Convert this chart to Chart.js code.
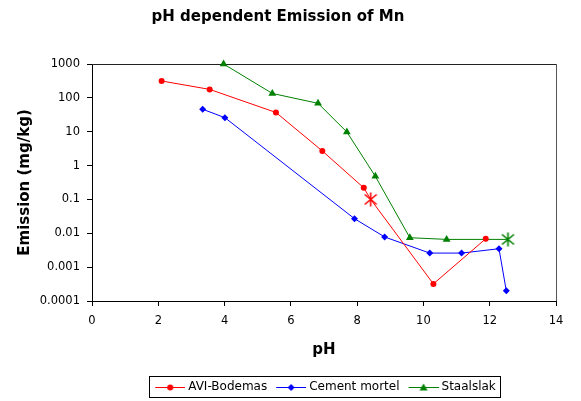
<!DOCTYPE html>
<html>
<head>
<meta charset="utf-8">
<script src="https://cdn.jsdelivr.net/npm/chart.js@4/dist/chart.umd.min.js"></script>
<style>
  html, body { margin: 0; padding: 0; background: #fff; }
  #wrap { width: 581px; height: 401px; }
</style>
</head>
<body>
<div id="wrap"><canvas id="chart" width="581" height="401"></canvas></div>
<script>
// data
const seriesNames = ['AVI-Bodemas', 'Cement mortel', 'Staalslak'];

const aviPH = [2.1, 3.55, 5.55, 6.95, 8.2, 8.41, 10.3, 11.88];
const aviEmission = [315, 178, 37, 2.7, 0.22, 0.1, 0.00032, 0.0069];

const cementPH = [3.34, 4.01, 7.92, 8.83, 10.19, 11.15, 12.28, 12.5];
const cementEmission = [46, 26, 0.027, 0.0078, 0.0026, 0.0026, 0.0035, 0.0002];

const staalPH = [3.97, 5.44, 6.82, 7.69, 8.55, 9.59, 10.7, 12.55];
const staalEmission = [1000, 135, 69, 9.8, 0.48, 0.0074, 0.0066, 0.0066];

// points drawn with the big star marker
const aviStarIndex = 5;
const staalStarIndex = 7;

const yTicks = [0.0001, 0.001, 0.01, 0.1, 1, 10, 100, 1000];

const RED = '#ff0000', BLUE = '#0000ff', GREEN = '#008000';
const FONT = "'DejaVu Sans', Verdana, sans-serif";

function toPoints(xs, ys) {
  return xs.map((x, i) => ({ x: x, y: ys[i] }));
}

// excel-like asterisk marker: X plus vertical bar
function starMarker(color) {
  const c = document.createElement('canvas');
  c.width = 15; c.height = 15;
  const g = c.getContext('2d');
  g.strokeStyle = color;
  g.lineWidth = 1.6;
  g.beginPath();
  g.moveTo(1.5, 2.5); g.lineTo(13.5, 12.5);
  g.moveTo(13.5, 2.5); g.lineTo(1.5, 12.5);
  g.moveTo(7.5, 0.5); g.lineTo(7.5, 14.5);
  g.stroke();
  return c;
}

// legend sample: short line with the marker in the middle
function legendSample(color, style) {
  const c = document.createElement('canvas');
  c.width = 36; c.height = 12;
  const g = c.getContext('2d');
  g.strokeStyle = color;
  g.fillStyle = color;
  g.lineWidth = 1;
  g.beginPath();
  g.moveTo(6, 6.5); g.lineTo(36, 6.5);
  g.stroke();
  const cx = 21, cy = 6.5;
  g.beginPath();
  if (style === 'circle') {
    g.arc(cx, cy, 3, 0, Math.PI * 2);
  } else if (style === 'rectRot') {
    g.moveTo(cx, cy - 3.5); g.lineTo(cx + 3.5, cy); g.lineTo(cx, cy + 3.5); g.lineTo(cx - 3.5, cy);
  } else {
    g.moveTo(cx, cy - 4); g.lineTo(cx + 4, cy + 3); g.lineTo(cx - 4, cy + 3);
  }
  g.closePath();
  g.fill();
  return c;
}

function styles(n, base, starIdx, color) {
  const arr = new Array(n).fill(base);
  if (starIdx != null) arr[starIdx] = starMarker(color);
  return arr;
}

const plotFrame = {
  id: 'plotFrame',
  beforeDatasetsDraw(chart) {
    const { ctx, chartArea: a } = chart;
    ctx.save();
    ctx.lineWidth = 1;
    ctx.strokeStyle = '#222';
    ctx.beginPath();
    ctx.moveTo(a.left, a.top + 0.5); ctx.lineTo(a.right, a.top + 0.5);
    ctx.stroke();
    ctx.strokeStyle = '#555';
    ctx.beginPath();
    ctx.moveTo(a.right + 0.5, a.top); ctx.lineTo(a.right + 0.5, a.bottom);
    ctx.stroke();
    ctx.restore();
  },
  afterDraw(chart) {
    const { ctx } = chart;
    // legend border
    const boxes = chart.legend.legendHitBoxes;
    if (boxes && boxes.length) {
      const first = boxes[0], last = boxes[boxes.length - 1];
      const l = Math.round(first.left) - 2.5;
      const r = Math.round(last.left + last.width) + 4.5;
      const t = Math.round(first.top + first.height / 2) - 10.5;
      ctx.save();
      ctx.lineWidth = 1;
      ctx.strokeStyle = '#000';
      ctx.strokeRect(l, t, r - l, 21);
      ctx.restore();
    }
  }
};

new Chart(document.getElementById('chart'), {
  type: 'line',
  data: {
    datasets: [
      {
        label: seriesNames[0],
        data: toPoints(aviPH, aviEmission),
        borderColor: RED,
        backgroundColor: RED,
        borderWidth: 1,
        pointStyle: styles(aviPH.length, 'circle', aviStarIndex, RED),
        pointRadius: 3,
        pointBorderWidth: 0,
        clip: false,
      },
      {
        label: seriesNames[1],
        data: toPoints(cementPH, cementEmission),
        borderColor: BLUE,
        backgroundColor: BLUE,
        borderWidth: 1,
        pointStyle: 'rectRot',
        pointRadius: 3.5,
        pointBorderWidth: 0,
        clip: false,
      },
      {
        label: seriesNames[2],
        data: toPoints(staalPH, staalEmission),
        borderColor: GREEN,
        backgroundColor: GREEN,
        borderWidth: 1,
        pointStyle: styles(staalPH.length, 'triangle', staalStarIndex, GREEN),
        pointRadius: 4.5,
        pointBorderWidth: 0,
        clip: false,
      },
    ],
  },
  options: {
    responsive: false,
    animation: false,
    events: [],
    layout: { padding: { left: 0, right: 25, top: 0, bottom: -2 } },
    scales: {
      x: {
        type: 'linear',
        min: 0,
        max: 14,
        afterFit: (scale) => { scale.height = 74; },
        border: { display: true, color: '#000', width: 1 },
        grid: { drawOnChartArea: false, drawTicks: true, tickLength: 5, color: '#000' },
        ticks: { stepSize: 2, color: '#000', padding: 8, font: { family: FONT, size: 11.5 } },
        title: {
          display: true,
          text: 'pH',
          color: '#000',
          font: { family: FONT, size: 15, weight: 'bold' },
          padding: { top: 0, bottom: 16 },
        },
      },
      y: {
        type: 'logarithmic',
        min: 0.0001,
        max: 1000,
        afterFit: (scale) => { scale.width = 92; },
        afterBuildTicks: (scale) => { scale.ticks = yTicks.map((v) => ({ value: v })); },
        border: { display: true, color: '#000', width: 1 },
        grid: { drawOnChartArea: false, drawTicks: true, tickLength: 5, color: '#000' },
        ticks: {
          color: '#000',
          padding: 7,
          autoSkip: false,
          font: { family: FONT, size: 11.5 },
          callback: (v) => String(v),
        },
        title: {
          display: true,
          text: 'Emission (mg/kg)',
          color: '#000',
          font: { family: FONT, size: 15, weight: 'bold' },
          padding: { top: 16, bottom: 0 },
        },
      },
    },
    plugins: {
      title: {
        display: true,
        text: 'pH dependent Emission of Mn',
        color: '#000',
        font: { family: FONT, size: 15, weight: 'bold' },
        padding: { top: 8, bottom: 38 },
      },
      legend: {
        position: 'bottom',
        fullSize: false,
        labels: {
          color: '#000',
          font: { family: FONT, size: 12 },
          usePointStyle: true,
          pointStyleWidth: 30,
          padding: 6,
          generateLabels: (chart) => {
            const marks = ['circle', 'rectRot', 'triangle'];
            const cols = [RED, BLUE, GREEN];
            return seriesNames.map((name, i) => ({
              text: name,
              datasetIndex: i,
              fontColor: '#000',
              pointStyle: legendSample(cols[i], marks[i]),
              fillStyle: cols[i],
              strokeStyle: cols[i],
              lineWidth: 0,
              hidden: false,
            }));
          },
        },
      },
      tooltip: { enabled: false },
    },
  },
  plugins: [plotFrame],
});
</script>
</body>
</html>
